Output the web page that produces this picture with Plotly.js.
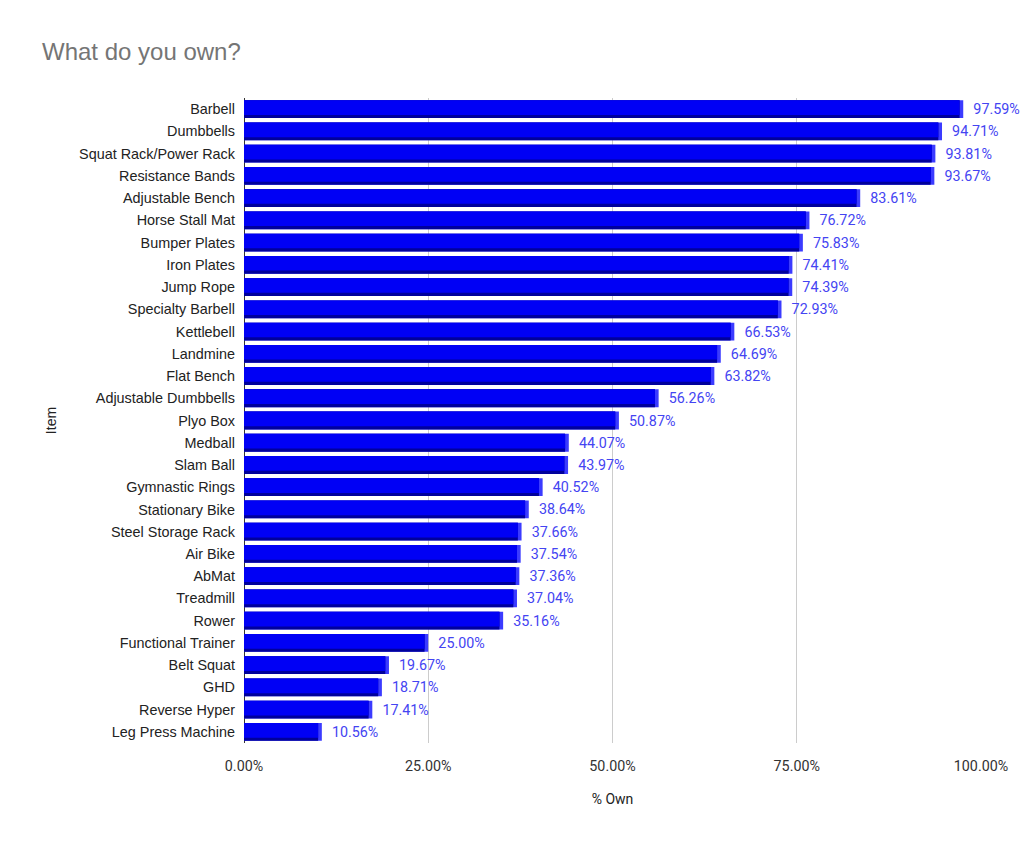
<!DOCTYPE html>
<html>
<head>
<meta charset="utf-8">
<script src="https://cdn.plot.ly/plotly-3.0.1.min.js"></script>
<style>html,body{margin:0;padding:0;background:#fff;}#chart{width:1024px;height:850px;}</style>
</head>
<body>
<div id="chart"></div>
<script>
const items = ["Barbell","Dumbbells","Squat Rack/Power Rack","Resistance Bands","Adjustable Bench","Horse Stall Mat","Bumper Plates","Iron Plates","Jump Rope","Specialty Barbell","Kettlebell","Landmine","Flat Bench","Adjustable Dumbbells","Plyo Box","Medball","Slam Ball","Gymnastic Rings","Stationary Bike","Steel Storage Rack","Air Bike","AbMat","Treadmill","Rower","Functional Trainer","Belt Squat","GHD","Reverse Hyper","Leg Press Machine"];
const pctOwn = [97.59,94.71,93.81,93.67,83.61,76.72,75.83,74.41,74.39,72.93,66.53,64.69,63.82,56.26,50.87,44.07,43.97,40.52,38.64,37.66,37.54,37.36,37.04,35.16,25.00,19.67,18.71,17.41,10.56];
const xTickVals = [0,0.25,0.5,0.75,1];
const xTickText = ["0.00%","25.00%","50.00%","75.00%","100.00%"];

const frac = pctOwn.map(v => v/100);
const depth = 0.005; // 3D side depth in axis units
const faceX = frac.map(v => v - depth);

const sideTrace = {
  type:'bar', orientation:'h', y: items, x: frac, width:0.8,
  marker:{color:'#3b3bff', line:{width:0}},
  text: frac.map(v => '\u00a0\u00a0' + (v*100).toFixed(2)+'%'),
  textposition:'outside', cliponaxis:false,
  textfont:{family:'Roboto, sans-serif', size:14.3, color:'#4444f2'},
  hoverinfo:'skip', showlegend:false
};
const shadowTrace = {
  type:'bar', orientation:'h', y: items, x: faceX, width:0.8,
  marker:{color:'#00009c', line:{width:0}},
  hoverinfo:'skip', showlegend:false
};
const faceTrace = {
  type:'bar', orientation:'h', y: items, x: faceX, width:0.66, offset:-0.4,
  marker:{color:'#0000f5', line:{width:0}},
  hoverinfo:'skip', showlegend:false
};

const layout = {
  width:1024, height:850,
  paper_bgcolor:'#fff', plot_bgcolor:'#fff',
  margin:{l:244, r:43, t:98, b:107},
  barmode:'overlay',
  title:{text:'What do you own?', xref:'container', yref:'container', x:42/1024, xanchor:'left', y:1-52/850, yanchor:'middle',
    font:{family:'Liberation Sans, Arial, sans-serif', size:24, color:'#757575'}},
  xaxis:{range:[0,1], tickvals:xTickVals, ticktext:xTickText, showgrid:true, gridcolor:'#cccccc', gridwidth:1,
    zeroline:true, zerolinecolor:'#333333', zerolinewidth:1, showline:false, ticks:'',
    ticklabelstandoff:13,
    tickfont:{family:'Roboto, sans-serif', size:14.3, color:'#333333'},
    title:{text:'% Own', standoff:20, font:{family:'Roboto, sans-serif', size:14, color:'#222222'}}, fixedrange:true},
  yaxis:{type:'category', autorange:'reversed', showgrid:false, zeroline:false, showline:false, ticks:'',
    ticklabelstandoff:8,
    tickfont:{family:'Liberation Sans, Arial, sans-serif', size:14.4, color:'#222222'},
    title:{text:'Item', standoff:19, font:{family:'Liberation Sans, Arial, sans-serif', size:14, color:'#222222'}}, fixedrange:true}
};

Plotly.newPlot('chart', [sideTrace, shadowTrace, faceTrace], layout, {displayModeBar:false, staticPlot:true});
</script>
</body>
</html>
